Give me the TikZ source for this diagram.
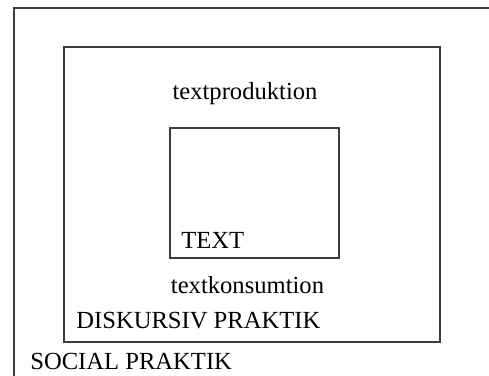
\documentclass[tikz,border=0pt]{standalone}
\usepackage{fontspec}
\setmainfont{Liberation Serif}
\usetikzlibrary{positioning}
\definecolor{frame}{RGB}{60,60,60}

\begin{document}
\begin{tikzpicture}[x=0.5pt, y=0.5pt,
  box/.style={draw=frame, line width=0.75pt, inner sep=0pt},
  lbl/.style={inner sep=0pt, font=\fontsize{12.3}{14}\selectfont}]
  \useasboundingbox (0,0) rectangle (489,376);
  \clip (0,0) rectangle (489,376);
  % boxes
  \node[box, minimum width=243pt, minimum height=189pt] (social) at (257,179) {};
  \node[box, minimum width=188pt, minimum height=147.5pt] (diskursiv) at (252,181.5) {};
  \node[box, minimum width=84.5pt, minimum height=65pt] (text) at (254.5,183) {};
  % labels
  \node[lbl] (produktion) at (245,282) {textproduktion};
  \node[lbl, anchor=west] (textlbl) at (181,136) {TEXT};
  \node[lbl] (konsumtion) at (247.5,91) {textkonsumtion};
  \node[lbl, anchor=west] (diskursivlbl) at (76,55) {DISKURSIV PRAKTIK};
  \node[lbl, anchor=west] (sociallbl) at (30,15) {SOCIAL PRAKTIK};
\end{tikzpicture}
\end{document}
